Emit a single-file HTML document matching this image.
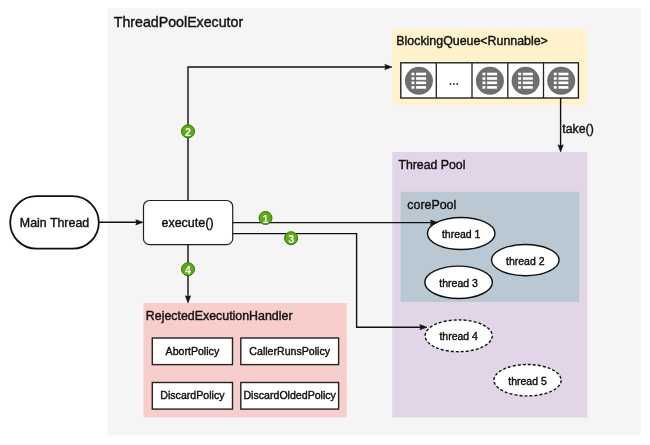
<!DOCTYPE html>
<html><head><meta charset="utf-8"><style>
html,body{margin:0;padding:0;background:#fff;width:650px;height:445px;overflow:hidden}
svg{display:block}
#w{will-change:transform;width:650px;height:445px}
</style></head><body><div id="w">
<svg width="650" height="445" viewBox="0 0 650 445">
<rect width="650" height="445" fill="#fff"/>
<rect x="107.6" y="8.3" width="533.2" height="427" fill="#f5f5f5"/>
<text x="113.8" y="26.7" font-family="Liberation Sans, sans-serif" stroke="#111" stroke-width="0.4" font-size="14.2" fill="#111">ThreadPoolExecutor</text>
<rect x="392" y="28.5" width="195" height="76.5" fill="#fff2cc"/>
<text x="396.3" y="44.6" font-family="Liberation Sans, sans-serif" stroke="#111" stroke-width="0.4" font-size="12.4" fill="#111">BlockingQueue&lt;Runnable&gt;</text>
<rect x="400.8" y="62.8" width="177.6" height="35.2" fill="#fff" stroke="#222" stroke-width="1.4"/>
<line x1="436.3" y1="62.8" x2="436.3" y2="98" stroke="#222" stroke-width="1.3"/>
<line x1="472" y1="62.8" x2="472" y2="98" stroke="#222" stroke-width="1.3"/>
<line x1="507.8" y1="62.8" x2="507.8" y2="98" stroke="#222" stroke-width="1.3"/>
<line x1="543.5" y1="62.8" x2="543.5" y2="98" stroke="#222" stroke-width="1.3"/>
<circle cx="418.9" cy="80.8" r="14" fill="#6f6f6f"/><rect x="411.50" y="72.70" width="2.9" height="2.6" fill="#fff"/><rect x="416.10" y="72.70" width="10" height="2.6" fill="#fff"/><rect x="411.50" y="77.20" width="2.9" height="2.6" fill="#fff"/><rect x="416.10" y="77.20" width="10" height="2.6" fill="#fff"/><rect x="411.50" y="81.50" width="2.9" height="2.6" fill="#fff"/><rect x="416.10" y="81.50" width="10" height="2.6" fill="#fff"/><rect x="411.50" y="86.10" width="2.9" height="2.6" fill="#fff"/><rect x="416.10" y="86.10" width="10" height="2.6" fill="#fff"/>
<circle cx="489.9" cy="80.8" r="14" fill="#6f6f6f"/><rect x="482.50" y="72.70" width="2.9" height="2.6" fill="#fff"/><rect x="487.10" y="72.70" width="10" height="2.6" fill="#fff"/><rect x="482.50" y="77.20" width="2.9" height="2.6" fill="#fff"/><rect x="487.10" y="77.20" width="10" height="2.6" fill="#fff"/><rect x="482.50" y="81.50" width="2.9" height="2.6" fill="#fff"/><rect x="487.10" y="81.50" width="10" height="2.6" fill="#fff"/><rect x="482.50" y="86.10" width="2.9" height="2.6" fill="#fff"/><rect x="487.10" y="86.10" width="10" height="2.6" fill="#fff"/>
<circle cx="525.6" cy="80.8" r="14" fill="#6f6f6f"/><rect x="518.20" y="72.70" width="2.9" height="2.6" fill="#fff"/><rect x="522.80" y="72.70" width="10" height="2.6" fill="#fff"/><rect x="518.20" y="77.20" width="2.9" height="2.6" fill="#fff"/><rect x="522.80" y="77.20" width="10" height="2.6" fill="#fff"/><rect x="518.20" y="81.50" width="2.9" height="2.6" fill="#fff"/><rect x="522.80" y="81.50" width="10" height="2.6" fill="#fff"/><rect x="518.20" y="86.10" width="2.9" height="2.6" fill="#fff"/><rect x="522.80" y="86.10" width="10" height="2.6" fill="#fff"/>
<circle cx="561.2" cy="80.8" r="14" fill="#6f6f6f"/><rect x="553.80" y="72.70" width="2.9" height="2.6" fill="#fff"/><rect x="558.40" y="72.70" width="10" height="2.6" fill="#fff"/><rect x="553.80" y="77.20" width="2.9" height="2.6" fill="#fff"/><rect x="558.40" y="77.20" width="10" height="2.6" fill="#fff"/><rect x="553.80" y="81.50" width="2.9" height="2.6" fill="#fff"/><rect x="558.40" y="81.50" width="10" height="2.6" fill="#fff"/><rect x="553.80" y="86.10" width="2.9" height="2.6" fill="#fff"/><rect x="558.40" y="86.10" width="10" height="2.6" fill="#fff"/>
<circle cx="450.6" cy="83.9" r="0.9" fill="#222"/>
<circle cx="453.9" cy="83.9" r="0.9" fill="#222"/>
<circle cx="457.2" cy="83.9" r="0.9" fill="#222"/>
<line x1="560.6" y1="98" x2="560.6" y2="146" stroke="#111" stroke-width="1.4"/>
<path d="M560.6,152 L558.0,144.8 L560.6,145.8 L563.2,144.8 Z" fill="#111" stroke="#111" stroke-width="0.6" stroke-linejoin="miter"/>
<text x="562.3" y="133.1" font-family="Liberation Sans, sans-serif" stroke="#111" stroke-width="0.4" font-size="12.3" fill="#111">take()</text>
<rect x="392.2" y="152" width="195.1" height="265.5" fill="#e1d5e7"/>
<text x="398.4" y="168.6" font-family="Liberation Sans, sans-serif" stroke="#111" stroke-width="0.4" font-size="12.3" fill="#111">Thread Pool</text>
<rect x="400.6" y="191.8" width="178.6" height="110.2" fill="#bac8d3"/>
<text x="407.3" y="208.6" font-family="Liberation Sans, sans-serif" stroke="#111" stroke-width="0.4" font-size="12.4" fill="#111">corePool</text>
<ellipse cx="461.2" cy="233.5" rx="33.8" ry="16" fill="#fff" stroke="#111" stroke-width="1.4"/><text x="461.2" y="238.1" text-anchor="middle" font-family="Liberation Sans, sans-serif" stroke="#111" stroke-width="0.4" font-size="10.5" fill="#111">thread 1</text>
<ellipse cx="525.3" cy="260.1" rx="33.8" ry="15.6" fill="#fff" stroke="#111" stroke-width="1.4"/><text x="525.3" y="264.70000000000005" text-anchor="middle" font-family="Liberation Sans, sans-serif" stroke="#111" stroke-width="0.4" font-size="10.5" fill="#111">thread 2</text>
<ellipse cx="458.6" cy="282.3" rx="33.8" ry="16.2" fill="#fff" stroke="#111" stroke-width="1.4"/><text x="458.6" y="286.90000000000003" text-anchor="middle" font-family="Liberation Sans, sans-serif" stroke="#111" stroke-width="0.4" font-size="10.5" fill="#111">thread 3</text>
<ellipse cx="458.7" cy="335.8" rx="33.6" ry="15.9" fill="#fff" stroke="#111" stroke-width="1.4" stroke-dasharray="3,2"/><text x="458.7" y="340.40000000000003" text-anchor="middle" font-family="Liberation Sans, sans-serif" stroke="#111" stroke-width="0.4" font-size="10.5" fill="#111">thread 4</text>
<ellipse cx="527.5" cy="380.2" rx="33.6" ry="15.7" fill="#fff" stroke="#111" stroke-width="1.4" stroke-dasharray="3,2"/><text x="527.5" y="384.8" text-anchor="middle" font-family="Liberation Sans, sans-serif" stroke="#111" stroke-width="0.4" font-size="10.5" fill="#111">thread 5</text>
<rect x="143.4" y="303" width="203.4" height="114.3" fill="#f8cecc"/>
<text x="145.8" y="320" font-family="Liberation Sans, sans-serif" stroke="#111" stroke-width="0.4" font-size="12.4" fill="#111">RejectedExecutionHandler</text>
<rect x="152.3" y="338" width="80.2" height="26.6" fill="#fff" stroke="#222" stroke-width="1.4"/><text x="192.4" y="354.7" text-anchor="middle" font-family="Liberation Sans, sans-serif" stroke="#111" stroke-width="0.4" font-size="10.6" fill="#111">AbortPolicy</text>
<rect x="240.8" y="338" width="97.8" height="26.6" fill="#fff" stroke="#222" stroke-width="1.4"/><text x="289.7" y="354.7" text-anchor="middle" font-family="Liberation Sans, sans-serif" stroke="#111" stroke-width="0.4" font-size="10.6" fill="#111">CallerRunsPolicy</text>
<rect x="152.3" y="382.5" width="80.2" height="26.6" fill="#fff" stroke="#222" stroke-width="1.4"/><text x="192.4" y="399.2" text-anchor="middle" font-family="Liberation Sans, sans-serif" stroke="#111" stroke-width="0.4" font-size="10.6" fill="#111">DiscardPolicy</text>
<rect x="240.8" y="382.5" width="97.8" height="26.6" fill="#fff" stroke="#222" stroke-width="1.4"/><text x="289.7" y="399.2" text-anchor="middle" font-family="Liberation Sans, sans-serif" stroke="#111" stroke-width="0.4" font-size="10.6" fill="#111">DiscardOldedPolicy</text>
<rect x="10.2" y="196.1" width="88.6" height="52.6" rx="26.3" ry="26.3" fill="#fff" stroke="#111" stroke-width="1.8"/>
<text x="54.5" y="226.7" text-anchor="middle" font-family="Liberation Sans, sans-serif" stroke="#111" stroke-width="0.4" font-size="12.4" fill="#111">Main Thread</text>
<line x1="99" y1="222.3" x2="137" y2="222.3" stroke="#111" stroke-width="1.4"/>
<path d="M143,222.3 L135.8,219.70000000000002 L136.8,222.3 L135.8,224.9 Z" fill="#111" stroke="#111" stroke-width="0.6" stroke-linejoin="miter"/>
<rect x="143.5" y="200.5" width="89.2" height="44.2" rx="6" ry="6" fill="#fff" stroke="#222" stroke-width="1.2"/>
<text x="187.5" y="226.7" text-anchor="middle" font-family="Liberation Sans, sans-serif" stroke="#111" stroke-width="0.4" font-size="12.5" fill="#111">execute()</text>
<polyline points="188,200.5 188,67 386,67" fill="none" stroke="#111" stroke-width="1.4"/>
<path d="M392,67 L384.8,64.4 L385.8,67 L384.8,69.6 Z" fill="#111" stroke="#111" stroke-width="0.6" stroke-linejoin="miter"/>
<polyline points="232.7,222.6 432,222.6" fill="none" stroke="#111" stroke-width="1.4"/>
<path d="M437.6,222.6 L430.40000000000003,220.0 L431.40000000000003,222.6 L430.40000000000003,225.2 Z" fill="#111" stroke="#111" stroke-width="0.6" stroke-linejoin="miter"/>
<polyline points="232.7,233.6 356.6,233.6 356.6,327.2 421,327.2" fill="none" stroke="#111" stroke-width="1.4"/>
<path d="M427,327.2 L419.8,324.59999999999997 L420.8,327.2 L419.8,329.8 Z" fill="#111" stroke="#111" stroke-width="0.6" stroke-linejoin="miter"/>
<polyline points="188,244.7 188,297" fill="none" stroke="#111" stroke-width="1.4"/>
<path d="M188,303 L185.4,295.8 L188,296.8 L190.6,295.8 Z" fill="#111" stroke="#111" stroke-width="0.6" stroke-linejoin="miter"/>
<circle cx="265.5" cy="218" r="6.5" fill="#60a917" stroke="#2d7600" stroke-width="1"/><text x="265.5" y="222.5" text-anchor="middle" font-family="Liberation Sans, sans-serif" font-weight="bold" font-size="10.6" fill="#fff">1</text>
<circle cx="188" cy="131.3" r="6.5" fill="#60a917" stroke="#2d7600" stroke-width="1"/><text x="188" y="135.8" text-anchor="middle" font-family="Liberation Sans, sans-serif" font-weight="bold" font-size="10.6" fill="#fff">2</text>
<circle cx="291.1" cy="238.2" r="6.5" fill="#60a917" stroke="#2d7600" stroke-width="1"/><text x="291.1" y="242.7" text-anchor="middle" font-family="Liberation Sans, sans-serif" font-weight="bold" font-size="10.6" fill="#fff">3</text>
<circle cx="188" cy="269.2" r="6.5" fill="#60a917" stroke="#2d7600" stroke-width="1"/><text x="188" y="273.7" text-anchor="middle" font-family="Liberation Sans, sans-serif" font-weight="bold" font-size="10.6" fill="#fff">4</text>
</svg></div>
</body></html>
